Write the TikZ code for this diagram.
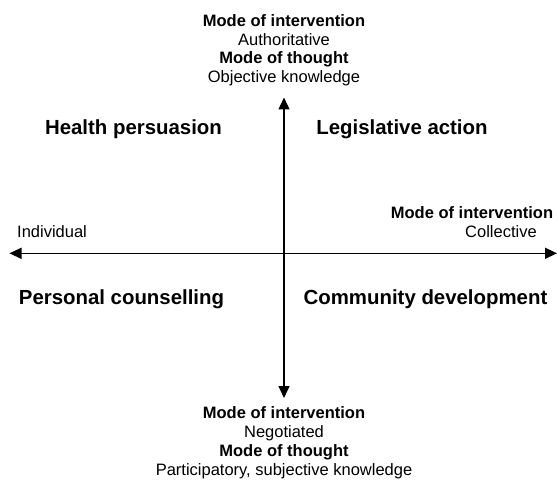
\documentclass[tikz,border=0pt]{standalone}
\usepackage{fontspec}
\setmainfont{Liberation Sans}
\usetikzlibrary{arrows.meta}
\tikzset{
  small/.style={inner sep=0pt, anchor=base, font=\fontsize{16.5}{18}\selectfont},
  smallb/.style={small, font=\fontsize{16.5}{18}\selectfont\bfseries},
  quad/.style={inner sep=0pt, anchor=base, font=\fontsize{20.4}{24}\selectfont\bfseries},
  axis/.style={line width=1.4pt, -{Triangle[length=12pt,width=11pt]}},
}
\begin{document}
\begin{tikzpicture}[x=1pt,y=-1pt]
\useasboundingbox (0,0) rectangle (557,481);
% axis end points
\coordinate (c) at (284,253.3);
\coordinate (top) at (284,97.5);
\coordinate (bot) at (284,398);
\coordinate (lft) at (9.5,253.3);
\coordinate (rgt) at (557,253.3);
\draw[axis] (c) -- (top);
\draw[axis] (c) -- (bot);
\draw[axis] (c) -- (lft);
\draw[axis] (c) -- (rgt);
% top block
\node[smallb] (t1) at (284,26.5) {Mode of intervention};
\node[small]  (t2) at (284,45.2) {Authoritative};
\node[smallb] (t3) at (284,63.8) {Mode of thought};
\node[small]  (t4) at (284,82.5) {Objective knowledge};
% bottom block
\node[smallb] (b1) at (284,418) {Mode of intervention};
\node[small]  (b2) at (284,437) {Negotiated};
\node[smallb] (b3) at (284,456) {Mode of thought};
\node[small]  (b4) at (284,475) {Participatory, subjective knowledge};
% left / right
\node[small, anchor=base west] (ind) at (17,238) {Individual};
\node[smallb] (r1) at (472,218.5) {Mode of intervention};
\node[small]  (r2) at (501,237.5) {Collective};
% quadrants
\node[quad] (hp) at (133.5,135) {Health persuasion};
\node[quad] (la) at (402,135) {Legislative action};
\node[quad] (pc) at (121.5,305) {Personal counselling};
\node[quad] (cd) at (425.5,305) {Community development};
\end{tikzpicture}
\end{document}
